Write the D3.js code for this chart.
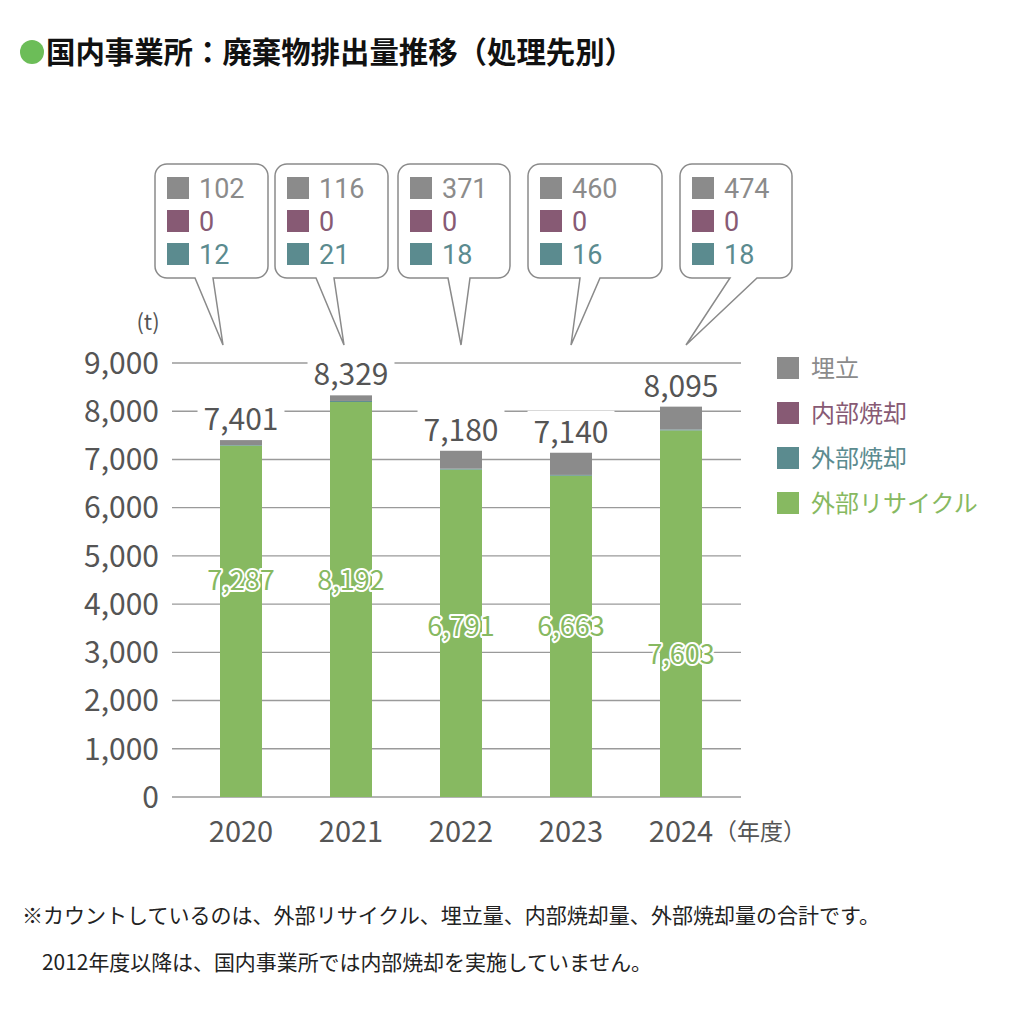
<!DOCTYPE html>
<html lang="ja">
<head>
<meta charset="utf-8">
<title>国内事業所：廃棄物排出量推移（処理先別）</title>
<script src="https://d3js.org/d3.v7.min.js"></script>
<style>
  html, body { margin: 0; padding: 0; background: #fff; }
  svg { display: block; font-family: "Noto Sans CJK JP", "Noto Sans", sans-serif; }
</style>
</head>
<body>
<div id="chart"></div>
<script>
// data (t)
const years = ["2020", "2021", "2022", "2023", "2024"];
const recycle = [7287, 8192, 6791, 6663, 7603];   // 外部リサイクル
const extIncin = [12, 21, 18, 16, 18];            // 外部焼却
const intIncin = [0, 0, 0, 0, 0];                 // 内部焼却
const landfill = [102, 116, 371, 460, 474];       // 埋立
const totals = [7401, 8329, 7180, 7140, 8095];
const yTicks = [0, 1000, 2000, 3000, 4000, 5000, 6000, 7000, 8000, 9000];

const seriesKeys = ["recycle", "extIncin", "intIncin", "landfill"];
const colors = { recycle: "#87b961", extIncin: "#5b8b8f", intIncin: "#875a74", landfill: "#8b8b8b" };
const legendItems = [
  { key: "landfill", label: "埋立" },
  { key: "intIncin", label: "内部焼却" },
  { key: "extIncin", label: "外部焼却" },
  { key: "recycle", label: "外部リサイクル" }
];

// layout
const W = 1024, H = 1024;
const svg = d3.select("#chart").append("svg").attr("width", W).attr("height", H);

const x = d3.scaleBand().domain(years).range([186, 736]).paddingInner(0.62).paddingOuter(0.31);
const y = d3.scaleLinear().domain([0, 9000]).range([797, 363]);
const barW = 42;
const xc = d => x(d) + x.bandwidth() / 2;

// title
svg.append("circle").attr("cx", 32).attr("cy", 52).attr("r", 12).attr("fill", "#6cbd58");
svg.append("text").attr("x", 46).attr("y", 63)
  .attr("font-size", 30).attr("font-weight", 700).attr("fill", "#111")
  .attr("textLength", 588).attr("lengthAdjust", "spacingAndGlyphs")
  .text("国内事業所：廃棄物排出量推移（処理先別）");

// gridlines
svg.append("g").selectAll("line").data(yTicks).join("line")
  .attr("x1", 172).attr("x2", 741)
  .attr("y1", d => y(d)).attr("y2", d => y(d))
  .attr("stroke", "#9a9a9a").attr("stroke-width", 1.4);

// y tick labels
svg.append("g").selectAll("text").data(yTicks).join("text")
  .attr("x", 159).attr("y", d => y(d)).attr("dy", "0.36em")
  .attr("text-anchor", "end").attr("font-size", 30).attr("fill", "#555")
  .text(d => d3.format(",")(d));

svg.append("text").attr("x", 148).attr("y", 322).attr("dy", "0.35em")
  .attr("text-anchor", "middle").attr("font-size", 22).attr("fill", "#555").text("(t)");

// stacked bars
const rows = years.map((yr, i) => ({
  year: yr, recycle: recycle[i], extIncin: extIncin[i], intIncin: intIncin[i], landfill: landfill[i]
}));
const stacked = d3.stack().keys(seriesKeys)(rows);

svg.append("g").selectAll("g").data(stacked).join("g")
  .attr("fill", s => colors[s.key])
  .selectAll("rect").data(s => s).join("rect")
  .attr("x", d => xc(d.data.year) - barW / 2)
  .attr("width", barW)
  .attr("y", d => y(d[1]))
  .attr("height", d => y(d[0]) - y(d[1]));

// total labels above bars (white backing cuts the gridline)
const topLayer = stacked[stacked.length - 1];
const totalG = svg.append("g");
years.forEach((yr, i) => {
  const ty = y(topLayer[i][1]) - 10;
  const t = totalG.append("text").attr("x", xc(yr)).attr("y", ty)
    .attr("text-anchor", "middle").attr("font-size", 30).attr("fill", "#555")
    .text(d3.format(",")(totals[i]));
  const bb = t.node().getBBox();
  totalG.insert("rect", () => t.node())
    .attr("x", bb.x - 6).attr("y", bb.y + 3).attr("width", bb.width + 12).attr("height", bb.height - 6)
    .attr("fill", "#fff");
});

// recycle labels inside bars
const recycleLabelAt = [4500, 4500, 3530, 3530, 2950];
svg.append("g").selectAll("text").data(years).join("text")
  .attr("x", d => xc(d)).attr("y", (d, i) => y(recycleLabelAt[i])).attr("dy", "0.36em")
  .attr("text-anchor", "middle").attr("font-size", 27)
  .attr("fill", colors.recycle).attr("stroke", "#fff").attr("stroke-width", 4)
  .attr("stroke-linejoin", "round").attr("paint-order", "stroke")
  .text((d, i) => d3.format(",")(recycle[i]));

// x labels
svg.append("g").selectAll("text").data(years).join("text")
  .attr("x", d => xc(d)).attr("y", 832).attr("dy", "0.36em")
  .attr("text-anchor", "middle").attr("font-size", 29).attr("fill", "#555")
  .text(d => d);
svg.append("text").attr("x", 714).attr("y", 832).attr("dy", "0.36em")
  .attr("font-size", 23).attr("fill", "#555").text("（年度）");

// callouts
const boxLeft = [155, 275, 398, 528, 680];
const boxWidth = [113, 113, 112, 134, 112];
const tailBase = [[195, 213], [316, 334], [448, 470], [580, 600], [730, 757]];
const tipX = [223, 344, 461, 571, 686];
const boxTop = 164, boxBot = 278, tipY = 345, r = 12;

const callouts = svg.append("g");
years.forEach((yr, i) => {
  const x0 = boxLeft[i], x1 = x0 + boxWidth[i];
  const [b1, b2] = tailBase[i];
  const p = d3.path();
  p.moveTo(x0 + r, boxTop);
  p.lineTo(x1 - r, boxTop);
  p.arcTo(x1, boxTop, x1, boxTop + r, r);
  p.lineTo(x1, boxBot - r);
  p.arcTo(x1, boxBot, x1 - r, boxBot, r);
  p.lineTo(b2, boxBot);
  p.lineTo(tipX[i], tipY);
  p.lineTo(b1, boxBot);
  p.lineTo(x0 + r, boxBot);
  p.arcTo(x0, boxBot, x0, boxBot - r, r);
  p.lineTo(x0, boxTop + r);
  p.arcTo(x0, boxTop, x0 + r, boxTop, r);
  p.closePath();
  callouts.append("path").attr("d", p.toString())
    .attr("fill", "#fff").attr("stroke", "#8a8a8a").attr("stroke-width", 1.5);

  const items = [
    { key: "landfill", v: landfill[i] },
    { key: "intIncin", v: intIncin[i] },
    { key: "extIncin", v: extIncin[i] }
  ];
  items.forEach((it, j) => {
    const cy = boxTop + 24 + j * 33;
    callouts.append("rect").attr("x", x0 + 12).attr("y", cy - 11)
      .attr("width", 22).attr("height", 22).attr("fill", colors[it.key]);
    callouts.append("text").attr("x", x0 + 44).attr("y", cy).attr("dy", "0.36em")
      .attr("font-family", "Roboto, sans-serif")
      .attr("font-size", 27).attr("fill", colors[it.key]).text(it.v);
  });
});

// legend
const lg = svg.append("g");
legendItems.forEach((it, i) => {
  const cy = 368 + i * 45;
  lg.append("rect").attr("x", 777).attr("y", cy - 11).attr("width", 22).attr("height", 22)
    .attr("fill", colors[it.key]);
  lg.append("text").attr("x", 811).attr("y", cy).attr("dy", "0.36em")
    .attr("font-size", 24).attr("fill", colors[it.key]).text(it.label);
});

// footnote
svg.append("text").attr("x", 22).attr("y", 923)
  .attr("font-size", 21).attr("fill", "#222")
  .attr("textLength", 858).attr("lengthAdjust", "spacingAndGlyphs")
  .text("※カウントしているのは、外部リサイクル、埋立量、内部焼却量、外部焼却量の合計です。");
svg.append("text").attr("x", 42).attr("y", 970)
  .attr("font-size", 21).attr("fill", "#222")
  .attr("textLength", 610).attr("lengthAdjust", "spacingAndGlyphs")
  .text("2012年度以降は、国内事業所では内部焼却を実施していません。");
</script>
</body>
</html>
